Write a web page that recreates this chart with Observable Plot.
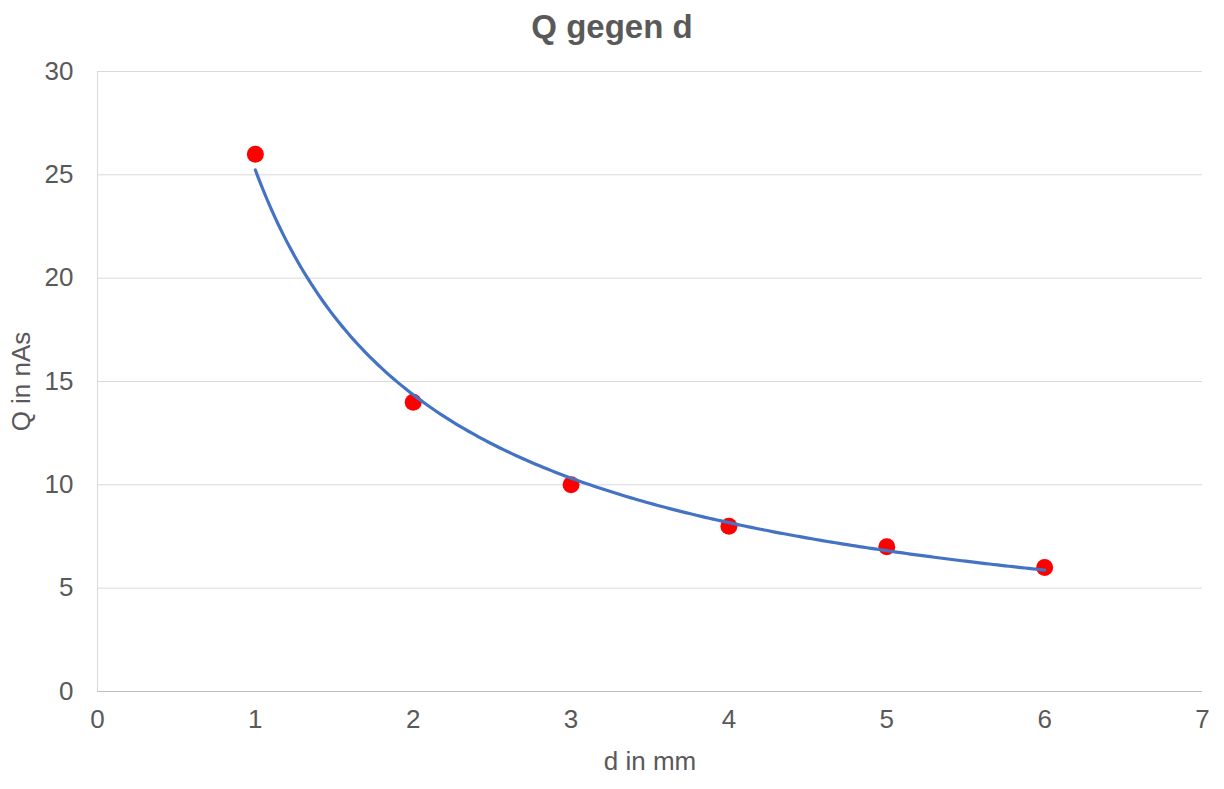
<!DOCTYPE html>
<html>
<head>
<meta charset="utf-8">
<script src="https://cdn.jsdelivr.net/npm/d3@7"></script>
<script src="https://cdn.jsdelivr.net/npm/@observablehq/plot@0.6"></script>
<style>
  html, body { margin: 0; padding: 0; background: #fff; }
  #title { font-family: "Liberation Sans", Arial, sans-serif; font-weight: bold; font-size: 33px; color: #595959; text-align: center; height: 52px; line-height: 54px; width: 1224px; }
  #chart svg { display: block; }
</style>
</head>
<body>
<div id="title">Q gegen d</div>
<div id="chart"></div>
<script>
const dValues = [1, 2, 3, 4, 5, 6];
const qValues = [26, 14, 10, 8, 7, 6];
const xTicks = [0, 1, 2, 3, 4, 5, 6, 7];
const yTicks = [0, 5, 10, 15, 20, 25, 30];

const points = dValues.map((d, i) => ({d, q: qValues[i]}));

// Power trendline (least squares in log-log space), as Excel does
const lx = dValues.map(Math.log), ly = qValues.map(Math.log);
const mx = d3.mean(lx), my = d3.mean(ly);
const b = d3.sum(lx.map((v, i) => (v - mx) * (ly[i] - my))) / d3.sum(lx.map(v => (v - mx) ** 2));
const a = Math.exp(my - b * mx);
const xMin = d3.min(dValues), xMax = d3.max(dValues);
const trend = d3.range(0, 201).map(i => {
  const x = xMin + (xMax - xMin) * i / 200;
  return {d: x, q: a * Math.pow(x, b)};
});

const chart = Plot.plot({
  width: 1224,
  height: 737,
  marginTop: 19,
  marginBottom: 98,
  marginLeft: 97,
  marginRight: 22,
  style: {fontFamily: "'Liberation Sans', Arial, sans-serif", fontSize: "26px", color: "#595959", background: "#fff"},
  x: {domain: [0, 7]},
  y: {domain: [0, 30]},
  marks: [
    Plot.gridY(yTicks.filter(t => t > 0), {stroke: "#d9d9d9", strokeOpacity: 1, strokeWidth: 1}),
    Plot.ruleX([0], {stroke: "#d9d9d9", strokeWidth: 1}),
    Plot.ruleY([0], {stroke: "#bfbfbf", strokeWidth: 1}),
    Plot.axisX({ticks: xTicks, tickSize: 0, tickPadding: 18, label: "d in mm", labelAnchor: "center", labelArrow: "none", labelOffset: 78, fill: "#595959", fontSize: 26, tickFormat: d3.format("d")}),
    Plot.axisY({ticks: yTicks, tickSize: 0, tickPadding: 24, label: "Q in nAs", labelAnchor: "center", labelArrow: "none", labelOffset: 86, fill: "#595959", fontSize: 26, tickFormat: d3.format("d")}),
    Plot.dot(points, {x: "d", y: "q", r: 8.5, fill: "#ff0000", stroke: "none"}),
    Plot.line(trend, {x: "d", y: "q", stroke: "#4472c4", strokeWidth: 3.2})
  ]
});
document.getElementById("chart").appendChild(chart);
</script>
</body>
</html>
